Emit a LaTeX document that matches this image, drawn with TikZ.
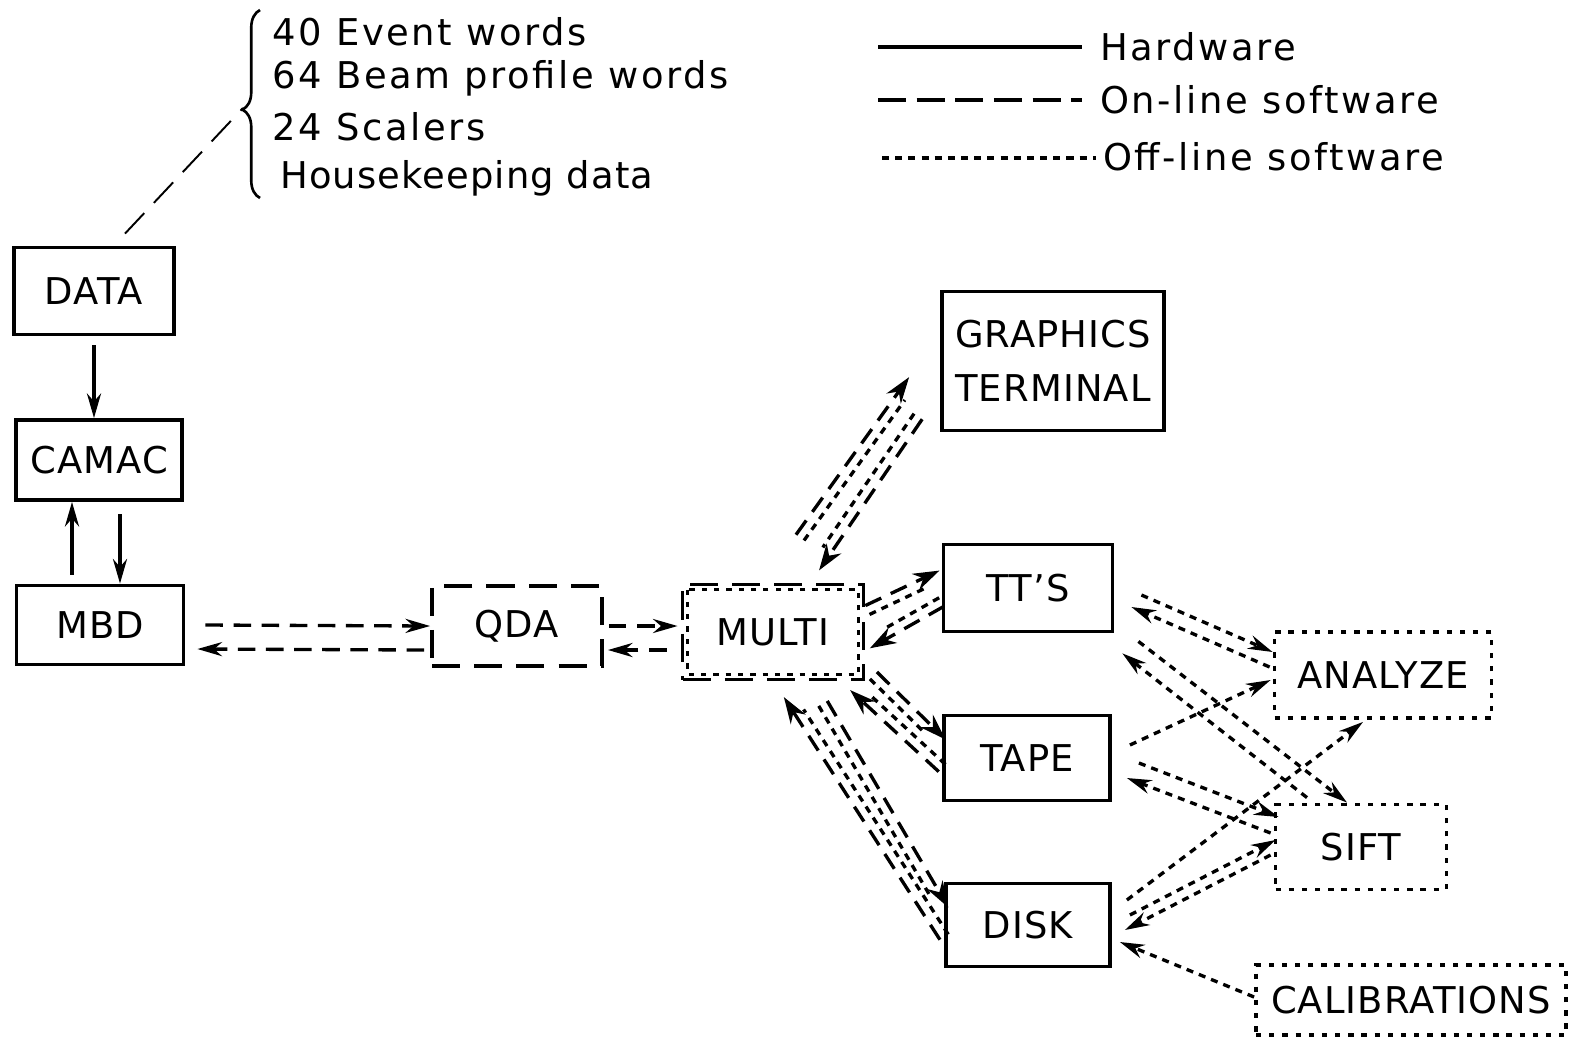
\documentclass[tikz,border=0pt]{standalone}
\usepackage{fontspec}
\newfontfamily\boxfont{DejaVu Sans}[LetterSpace=3]
\newfontfamily\notefont{DejaVu Sans}[LetterSpace=7]
\usetikzlibrary{arrows.meta, calc, decorations.pathreplacing}

% one arrow drawn as an on-line (dashed) and off-line (dotted) pair
\newcommand{\duo}[2]{%
  \coordinate (duoA) at (#1);
  \coordinate (duoB) at (#2);
  \draw[onl, -{Stealth[length=15pt,width=10pt]}] ($(duoA)!2.8pt!90:(duoB)$) -- ($(duoB)!2.8pt!-90:(duoA)$);
  \draw[offl, shorten >=12pt] ($(duoA)!2.8pt!-90:(duoB)$) -- ($(duoB)!2.8pt!90:(duoA)$);
}

\begin{document}
\begin{tikzpicture}[
    x=0.02cm, y=-0.02cm,
    hw/.style={line width=1.9pt},
    onl/.style={line width=1.9pt, dash pattern=on 10pt off 6pt},
    offl/.style={line width=1.9pt, dash pattern=on 4pt off 3.5pt},
    lead/.style={line width=1.1pt, dash pattern=on 16pt off 8pt},
    blk/.style={draw, line width=2.2pt, font=\boxfont\fontsize{21}{25}\selectfont, inner sep=0pt},
    hwbox/.style={blk},
    onbox/.style={blk, dash pattern=on 16pt off 8pt},
    offbox/.style={blk, dash pattern=on 3pt off 4.5pt},
    note/.style={font=\notefont\fontsize{21}{25}\selectfont, inner sep=0pt, anchor=base west},
    >={Stealth[length=14pt,width=8pt]}
]
\useasboundingbox (0,0) rectangle (1575,1039);

% ---------- data list ----------
\node[note] (evt) at (272,45) {40 Event words};
\node[note] (beam) at (272,88) {64 Beam profile words};
\node[note] (scal) at (272,140) {24 Scalers};
\node[note, font=\boxfont\fontsize{21}{25}\selectfont] (hk) at (280,188) {Housekeeping data};
\draw[line width=1.5pt, decorate, decoration={brace, amplitude=0.35cm, aspect=0.47}] (260,198) -- (260,10);
\coordinate (bracetip) at (243,108);

% ---------- legend ----------
\node[note] (hwlab) at (1100,60) {Hardware};
\node[note] (onlab) at (1100,113) {On-line software};
\node[note] (offlab) at (1103,170) {Off-line software};
\coordinate (hwleg) at (878,47);
\coordinate (onleg) at (878,100);
\coordinate (offleg) at (882,158);
\draw[hw, shorten >=10pt] (hwleg) -- (hwleg -| hwlab.west);
\draw[onl, dash pattern=on 16pt off 6pt, shorten >=10pt] (onleg) -- (onleg -| onlab.west);
\draw[offl, shorten >=4pt] (offleg) -- (offleg -| offlab.west);

% ---------- boxes ----------
\node[hwbox, minimum width=3.2cm, minimum height=1.74cm] (data) at (94,291) {DATA};
\node[hwbox, minimum width=3.32cm, minimum height=1.6cm] (camac) at (99,460) {CAMAC};
\node[hwbox, minimum width=3.34cm, minimum height=1.58cm] (mbd) at (100,625) {MBD};
\node[onbox, minimum width=3.4cm, minimum height=1.6cm] (qda) at (517,626) {QDA};
\node[onbox, minimum width=3.62cm, minimum height=1.9cm] (multi) at (773,632) {MULTI};
\draw[offl, dash pattern=on 3pt off 4pt] ([shift={(7,7)}]multi.north west) rectangle ([shift={(-7,-7)}]multi.south east);
\node[hwbox, minimum width=4.44cm, minimum height=2.78cm, align=center] (graphics) at (1053,361) {GRAPHICS\\[6pt]TERMINAL};
\node[hwbox, minimum width=3.38cm, minimum height=1.74cm] (tts) at (1028,588) {TT’S};
\node[hwbox, minimum width=3.32cm, minimum height=1.7cm] (tape) at (1027,758) {TAPE};
\node[hwbox, minimum width=3.28cm, minimum height=1.66cm] (disk) at (1028,925) {DISK};
\node[offbox, minimum width=4.34cm, minimum height=1.72cm] (analyze) at (1383,675) {ANALYZE};
\node[offbox, minimum width=3.42cm, minimum height=1.7cm] (sift) at (1361,847) {SIFT};
\node[offbox, minimum width=6.2cm, minimum height=1.4cm] (calib) at (1411,1000) {CALIBRATIONS};

\draw[lead] ([shift={(31,-12)}]data.north) -- (bracetip);

% ---------- hardware ----------
\draw[hw, ->, shorten <=5pt] (data.south) -- (data.south |- camac.north);
\draw[hw, ->, shorten <=5pt] ([shift={(-28,0)}]mbd.north) -- ([shift={(-27,0)}]camac.south);
\draw[hw, ->, shorten <=7pt] ([shift={(21,0)}]camac.south) -- ([shift={(20,0)}]mbd.north);

% ---------- on-line ----------
\draw[onl, ->] ([shift={(20,0)}]mbd.east) -- (qda.west);
\draw[onl, ->] ([shift={(-6,24)}]qda.west) -- ([shift={(12,24)}]mbd.east);
\draw[onl, ->] ([shift={(5,0)}]qda.east) -- ([shift={(-3,-6)}]multi.west);
\draw[onl, ->] ([shift={(-14,18)}]multi.west) -- ([shift={(4,24)}]qda.east);

% ---------- MULTI pairs ----------
\duo{[shift={(27,-45)}]multi.north}{[shift={(-27,19)}]graphics.west}
\duo{[shift={(-22,-16)}]graphics.south west}{[shift={(42,-15)}]multi.north}
\duo{[shift={(2,-22)}]multi.east}{[shift={(0,-13)}]tts.west}
\duo{[shift={(0,14)}]tts.west}{[shift={(2,12)}]multi.east}
\duo{[shift={(8,-6)}]multi.south east}{[shift={(0,-15)}]tape.west}
\duo{[shift={(0,10)}]tape.west}{[shift={(-12,5)}]multi.south east}
\duo{[shift={(0,12)}]disk.west}{[shift={(15,13)}]multi.south}
\duo{[shift={(50,22)}]multi.south}{[shift={(0,-15)}]disk.west}

% ---------- off-line ----------
\draw[offl, ->] ([shift={(27,7)}]tts.east) -- ([shift={(0,-23)}]analyze.west);
\draw[offl, ->] ([shift={(-3,-8)}]analyze.west) -- ([shift={(17,19)}]tts.east);
\draw[offl, ->] ([shift={(24,8)}]tts.south east) -- ([shift={(-14,0)}]sift.north);
\draw[offl, ->] ([shift={(-54,-5)}]sift.north) -- ([shift={(8,20)}]tts.south east);
\draw[offl, ->] ([shift={(18,-13)}]tape.east) -- ([shift={(-2,5)}]analyze.west);
\draw[offl, ->] ([shift={(27,5)}]tape.east) -- ([shift={(5,-30)}]sift.west);
\draw[offl, ->] ([shift={(-3,-14)}]sift.west) -- ([shift={(15,20)}]tape.east);
\draw[offl, ->] ([shift={(15,-25)}]disk.east) -- ([shift={(-20,2)}]analyze.south);
\draw[offl, ->] ([shift={(18,-10)}]disk.east) -- ([shift={(2,-7)}]sift.west);
\draw[offl, ->] ([shift={(-3,8)}]sift.west) -- ([shift={(13,5)}]disk.east);
\draw[offl, ->] ([shift={(0,-3)}]calib.west) -- ([shift={(8,17)}]disk.east);

\end{tikzpicture}
\end{document}
